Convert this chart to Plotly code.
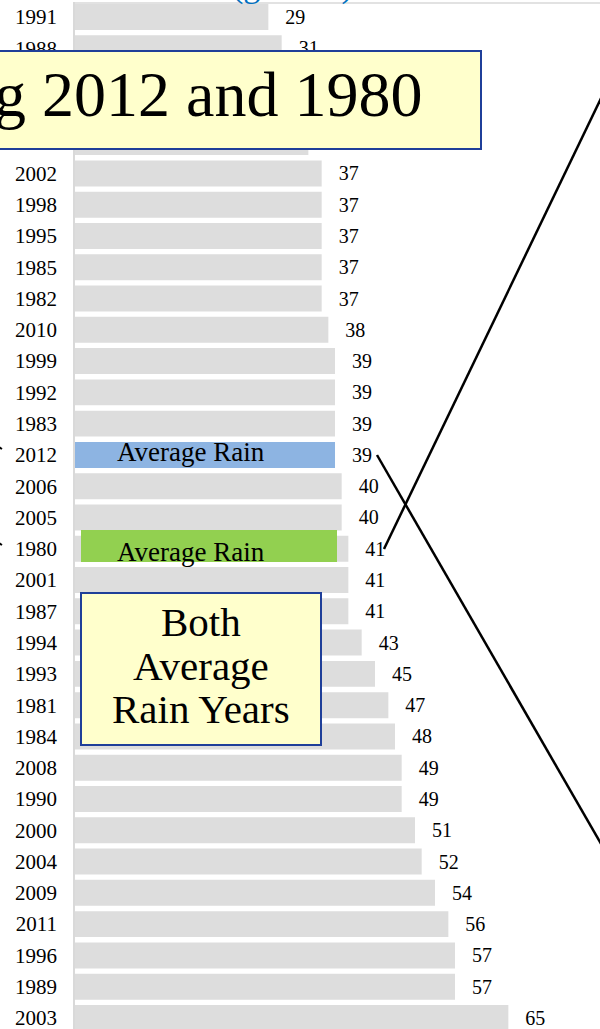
import plotly.graph_objects as go

# ---- data ----
years = ["1991", "1988", "2007", "1986", "1997", "2002", "1998", "1995", "1985",
         "1982", "2010", "1999", "1992", "1983", "2012", "2006", "2005", "1980",
         "2001", "1987", "1994", "1993", "1981", "1984", "2008", "1990", "2000",
         "2004", "2009", "2011", "1996", "1989", "2003"]
rain = [29, 31, 33, 34, 35, 37, 37, 37, 37, 37, 38, 39, 39, 39, 39, 40, 40, 41,
        41, 41, 43, 45, 47, 48, 49, 49, 51, 52, 54, 56, 57, 57, 65]
blue_year = "2012"
green_year = "1980"
title_text = "Comparing 2012 and 1980"
box_lines = ["Both", "Average", "Rain Years"]
bar_label = "Average Rain"
top_text = "(gallons)"

# ---- layout constants ----
W, H = 600, 1029
ML, MT = 75, 2
PX_PER_UNIT = 6.667
ROW0 = 17.0
ROW_STEP = 31.28
SERIF = "Liberation Serif, Times New Roman, serif"

plot_w = W - ML
plot_h = H - MT
x_max = plot_w / PX_PER_UNIT
y_top = (MT - ROW0) / ROW_STEP
y_bot = (H - ROW0) / ROW_STEP


def px(x):
    return (x - ML) / plot_w


def py(y):
    return 1 - (y - MT) / plot_h


colors = ["#8db4e2" if y == blue_year else "#dddddd" for y in years]
PAD = "\u2002\u2009"  # gap between bar end and its value label

fig = go.Figure()
fig.add_bar(y=years, x=rain, orientation="h",
            marker=dict(color=colors, line_width=0), hoverinfo="skip",
            text=[PAD + str(v) for v in rain], textposition="outside",
            constraintext="none", cliponaxis=False,
            textfont=dict(family=SERIF, size=20, color="black"))

shapes = []
# top frame line
shapes.append(dict(type="line", xref="paper", yref="paper", x0=px(75), x1=px(610),
                   y0=py(3), y1=py(3), line=dict(color="#d9d9d9", width=1.5), layer="below"))
# green rectangle over 1980
shapes.append(dict(type="rect", xref="paper", yref="paper", x0=px(81), x1=px(337),
                   y0=py(562), y1=py(530), fillcolor="#92d050", line=dict(width=0), layer="above"))
# title box
shapes.append(dict(type="rect", xref="paper", yref="paper", x0=px(-20), x1=px(481),
                   y0=py(149), y1=py(51), fillcolor="#ffffcc",
                   line=dict(color="#1f3f99", width=2), layer="above"))
# "Both average rain years" box
shapes.append(dict(type="rect", xref="paper", yref="paper", x0=px(81), x1=px(321),
                   y0=py(745), y1=py(593), fillcolor="#ffffcc",
                   line=dict(color="#1f3f99", width=2), layer="above"))
# connector lines
shapes.append(dict(type="line", xref="paper", yref="paper", x0=px(377), y0=py(455),
                   x1=px(604), y1=py(849), line=dict(color="black", width=2.5), layer="above"))
shapes.append(dict(type="line", xref="paper", yref="paper", x0=px(384), y0=py(549),
                   x1=px(604), y1=py(92), line=dict(color="black", width=2.5), layer="above"))
# tiny line ends at the left edge
for yy in (449, 545):
    shapes.append(dict(type="line", xref="paper", yref="paper", x0=px(-6), y0=py(yy - 5),
                       x1=px(2), y1=py(yy), line=dict(color="black", width=2), layer="above"))

ann = []
ann.append(dict(xref="paper", yref="paper", x=px(424), y=py(94), xanchor="right",
                yanchor="middle", text=title_text, showarrow=False,
                font=dict(family=SERIF, size=64, color="black")))
for txt, yy in zip(box_lines, (622, 666, 709)):
    ann.append(dict(xref="paper", yref="paper", x=px(201), y=py(yy), xanchor="center",
                    yanchor="middle", text=txt, showarrow=False,
                    font=dict(family=SERIF, size=41, color="black")))
ann.append(dict(xref="paper", yref="paper", x=px(191), y=py(452), xanchor="center",
                yanchor="middle", text=bar_label, showarrow=False,
                font=dict(family=SERIF, size=27, color="black")))
ann.append(dict(xref="paper", yref="paper", x=px(191), y=py(552), xanchor="center",
                yanchor="middle", text=bar_label, showarrow=False,
                font=dict(family=SERIF, size=27, color="black")))
ann.append(dict(xref="paper", yref="paper", x=px(292), y=py(7), xanchor="center",
                yanchor="bottom", text=top_text, showarrow=False,
                font=dict(family=SERIF, size=34, color="#0070c0")))

fig.update_layout(
    width=W, height=H,
    margin=dict(l=ML, r=0, t=MT, b=0, pad=0),
    paper_bgcolor="white", plot_bgcolor="white",
    showlegend=False, bargap=0.17,
    shapes=shapes, annotations=ann,
    xaxis=dict(range=[0, x_max], visible=False, fixedrange=True),
    yaxis=dict(type="category", range=[y_bot, y_top], showline=True,
               linecolor="#d9d9d9", linewidth=1.5, ticks="", showgrid=False,
               tickfont=dict(family=SERIF, size=21, color="black"),
               ticklabelstandoff=12, fixedrange=True),
)

fig.write_html("out.html", config={"displayModeBar": False},
               post_script="document.body.style.margin='0px';document.body.style.overflow='hidden';")
